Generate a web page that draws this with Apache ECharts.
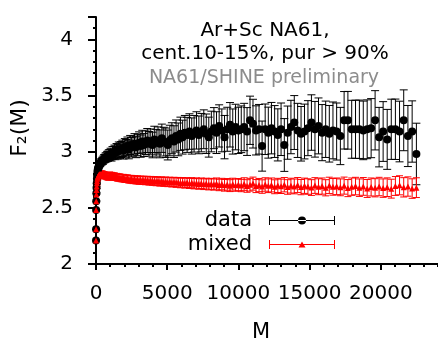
<!DOCTYPE html>
<html><head><meta charset="utf-8">
<script src="https://cdn.jsdelivr.net/npm/echarts@6/dist/echarts.min.js"></script>
<style>html,body{margin:0;padding:0;background:#fff}#c{width:438px;height:341px}</style>
</head><body><div id="c"></div>
<script>
// number of cells M
const M = [1,4,9,16,25,36,49,64,81,100,
121,144,169,196,225,256,289,324,361,400,
441,484,529,576,625,676,729,784,841,900,
961,1024,1089,1156,1225,1296,1369,1444,1521,1600,
1681,1764,1849,1936,2025,2116,2209,2304,2401,2500,
2601,2704,2809,2916,3025,3136,3249,3364,3481,3600,
3721,3844,3969,4096,4225,4356,4489,4624,4761,4900,
5041,5184,5329,5476,5625,5776,5929,6084,6241,6400,
6561,6724,6889,7056,7225,7396,7569,7744,7921,8100,
8281,8464,8649,8836,9025,9216,9409,9604,9801,10000,
10201,10404,10609,10816,11025,11236,11449,11664,11881,12100,
12321,12544,12769,12996,13225,13456,13689,13924,14161,14400,
14641,14884,15129,15376,15625,15876,16129,16384,16641,16900,
17161,17424,17689,17956,18225,18496,18769,19044,19321,19600,
19881,20164,20449,20736,21025,21316,21609,21904,22201,22500];

const dataF2 = [2.21,2.31,2.48,2.56,2.63,2.68,2.72,2.76,2.79,2.82,
2.84,2.85,2.86,2.87,2.88,2.89,2.89,2.90,2.91,2.91,
2.92,2.92,2.93,2.94,2.94,2.95,2.95,2.96,2.96,2.97,
2.97,2.98,2.97,2.99,2.99,3.00,2.99,3.01,3.00,3.02,
3.01,3.02,3.03,3.01,3.04,3.03,3.05,3.02,3.06,3.04,
3.05,3.07,3.04,3.06,3.08,3.05,3.09,3.06,3.08,3.10,
3.07,3.09,3.06,3.11,3.08,3.10,3.07,3.12,3.09,3.08,
3.06,3.10,3.12,3.09,3.14,3.11,3.16,3.13,3.17,3.15,
3.18,3.14,3.16,3.19,3.15,3.17,3.20,3.16,3.13,3.18,
3.21,3.17,3.23,3.19,3.13,3.20,3.24,3.18,3.22,3.19,
3.20,3.22,3.18,3.28,3.25,3.19,3.20,3.05,3.20,3.17,
3.21,3.18,3.15,3.20,3.06,3.17,3.22,3.26,3.19,3.16,
3.18,3.21,3.26,3.20,3.23,3.17,3.20,3.16,3.19,3.18,
3.14,3.28,3.28,3.20,3.20,3.20,3.19,3.20,3.21,3.28,
3.13,3.18,3.11,3.20,3.20,3.18,3.28,3.14,3.18,2.98];

const dataErr = [0.003,0.004,0.005,0.006,0.007,0.008,0.009,0.010,0.011,0.012,
0.014,0.015,0.017,0.018,0.020,0.021,0.023,0.025,0.026,0.028,
0.030,0.032,0.033,0.035,0.037,0.039,0.041,0.043,0.045,0.047,
0.049,0.051,0.053,0.055,0.057,0.059,0.061,0.063,0.065,0.067,
0.069,0.071,0.073,0.075,0.077,0.079,0.081,0.083,0.085,0.087,
0.089,0.091,0.093,0.095,0.097,0.099,0.101,0.103,0.105,0.107,
0.110,0.112,0.114,0.117,0.119,0.121,0.124,0.126,0.128,0.131,
0.133,0.136,0.138,0.141,0.143,0.146,0.148,0.151,0.153,0.156,
0.158,0.161,0.163,0.166,0.168,0.171,0.173,0.176,0.178,0.181,
0.183,0.186,0.188,0.191,0.193,0.196,0.198,0.201,0.203,0.206,
0.208,0.211,0.213,0.215,0.217,0.219,0.221,0.223,0.225,0.227,
0.229,0.231,0.232,0.234,0.235,0.237,0.238,0.240,0.241,0.243,
0.244,0.245,0.247,0.248,0.249,0.250,0.251,0.252,0.253,0.254,
0.255,0.256,0.257,0.258,0.259,0.260,0.261,0.262,0.263,0.264,
0.265,0.266,0.267,0.268,0.269,0.270,0.271,0.272,0.273,0.274];

const mixedF2 = [2.21,2.31,2.48,2.56,2.62,2.66,2.69,2.72,2.74,2.76,
2.77,2.78,2.785,2.79,2.795,2.80,2.80,2.80,2.80,2.80,
2.80,2.795,2.795,2.79,2.79,2.785,2.785,2.78,2.78,2.775,
2.79,2.785,2.785,2.78,2.78,2.78,2.775,2.775,2.77,2.77,
2.77,2.765,2.765,2.765,2.76,2.76,2.76,2.755,2.755,2.755,
2.750,2.752,2.748,2.750,2.745,2.748,2.744,2.746,2.742,2.745,
2.740,2.743,2.738,2.741,2.735,2.739,2.733,2.737,2.731,2.735,
2.729,2.733,2.727,2.731,2.725,2.729,2.722,2.727,2.720,2.725,
2.718,2.724,2.715,2.721,2.713,2.719,2.711,2.716,2.709,2.714,
2.708,2.716,2.704,2.712,2.701,2.709,2.698,2.711,2.702,2.707,
2.699,2.712,2.695,2.706,2.716,2.694,2.703,2.690,2.708,2.697,
2.704,2.688,2.700,2.692,2.706,2.686,2.698,2.691,2.703,2.685,
2.697,2.690,2.681,2.699,2.688,2.694,2.679,2.700,2.687,2.692,
2.683,2.698,2.676,2.689,2.694,2.680,2.691,2.673,2.686,2.679,
2.690,2.676,2.684,2.671,2.695,2.701,2.683,2.690,2.672,2.680];

const mixedErr = [0.003,0.004,0.005,0.006,0.010,0.013,0.016,0.018,0.020,0.022,
0.023,0.024,0.025,0.025,0.026,0.026,0.027,0.027,0.027,0.028,
0.028,0.028,0.028,0.029,0.029,0.029,0.029,0.030,0.030,0.030,
0.030,0.030,0.031,0.031,0.031,0.031,0.031,0.032,0.032,0.032,
0.032,0.032,0.033,0.033,0.033,0.033,0.033,0.034,0.034,0.034,
0.034,0.034,0.035,0.035,0.035,0.035,0.036,0.036,0.036,0.036,
0.037,0.037,0.037,0.038,0.038,0.038,0.039,0.039,0.039,0.040,
0.040,0.040,0.041,0.041,0.042,0.042,0.043,0.043,0.044,0.044,
0.045,0.045,0.046,0.046,0.047,0.047,0.048,0.048,0.049,0.049,
0.050,0.050,0.051,0.051,0.052,0.052,0.053,0.053,0.054,0.054,
0.055,0.056,0.056,0.057,0.058,0.058,0.059,0.060,0.060,0.061,
0.062,0.062,0.063,0.064,0.064,0.065,0.066,0.066,0.067,0.068,
0.068,0.069,0.070,0.070,0.071,0.072,0.072,0.073,0.074,0.074,
0.075,0.076,0.076,0.077,0.078,0.078,0.079,0.080,0.080,0.081,
0.082,0.082,0.083,0.084,0.084,0.085,0.086,0.086,0.087,0.088];

const seriesNames = ['data', 'mixed'];
const yTickLabels = ['2', '2.5', '3', '3.5', '4'];
const xTickLabels = ['0', '5000', '10000', '15000', '20000'];
const titleLines = ['Ar+Sc NA61,', 'cent.10-15%, pur > 90%'];
const subTitle = 'NA61/SHINE preliminary';
const xTitle = 'M';
const yTitle = 'F\u2082(M)';

const FONT = '"DejaVu Sans", sans-serif';

function errData(vals, errs) {
  return M.map((m, i) => [m, vals[i] - errs[i], vals[i] + errs[i]]);
}
function pts(vals) { return M.map((m, i) => [m, vals[i]]); }
function makeErrRender(capHalf, color) {
  return function (params, api) {
    const m = api.value(0);
    const lo = api.coord([m, api.value(1)]);
    const hi = api.coord([m, api.value(2)]);
    const x = lo[0];
    const st = { stroke: color, lineWidth: 1 };
    return {
      type: 'group',
      children: [
        { type: 'line', shape: { x1: x, y1: lo[1], x2: x, y2: hi[1] }, style: st },
        { type: 'line', shape: { x1: x - capHalf, y1: lo[1], x2: x + capHalf, y2: lo[1] }, style: st },
        { type: 'line', shape: { x1: x - capHalf, y1: hi[1], x2: x + capHalf, y2: hi[1] }, style: st }
      ]
    };
  };
}

const circleIcon = 'path://M0,0h1v9h-1z M0,4h66v1h-66z M65,0h1v9h-1z M29,4.5a4,4 0 1,0 8,0a4,4 0 1,0 -8,0z';
const triIcon = 'path://M0,0h1v9h-1z M0,4h66v1h-66z M65,0h1v9h-1z M33,1.5L36.5,7.5L29.5,7.5z';

const chart = echarts.init(document.getElementById('c'), null, { renderer: 'canvas' });
chart.setOption({
  animation: false,
  backgroundColor: '#fff',
  grid: { left: 96, top: 17, width: 356, height: 247, containLabel: false, outerBoundsMode: 'none' },
  xAxis: {
    type: 'value', min: 0, max: 25000, interval: 5000,
    name: xTitle, nameLocation: 'middle', nameGap: 58,
    nameTextStyle: { fontFamily: FONT, fontSize: 21, color: '#000', padding: [0, 26, 0, 0] },
    axisLine: { show: true, lineStyle: { color: '#000', width: 2 } },
    axisTick: { show: true, length: 6, lineStyle: { color: '#000', width: 2 } },
    minorTick: { show: true, splitNumber: 5, length: 3, lineStyle: { color: '#000', width: 2 } },
    splitLine: { show: false },
    axisLabel: { fontFamily: FONT, fontSize: 20, color: '#000', margin: 20,
      formatter: v => { const s = String(v); return xTickLabels.indexOf(s) >= 0 ? s : ''; } }
  },
  yAxis: [{
    type: 'value', min: 2, max: 4.2, interval: 0.1, position: 'left', offset: 2,
    axisLine: { show: true, lineStyle: { color: '#000', width: 2 } },
    axisTick: { show: true, length: 3, lineStyle: { color: '#000', width: 2 } },
    splitLine: { show: false },
    axisLabel: { fontFamily: FONT, fontSize: 20, color: '#000', margin: 21,
      formatter: v => { const s = String(+(+v).toFixed(1)); return yTickLabels.indexOf(s) >= 0 ? s : ''; } }
  }, {
    type: 'value', min: 2, max: 4.2, interval: 0.5, position: 'left', offset: 2,
    axisLine: { show: false },
    axisTick: { show: true, length: 6, lineStyle: { color: '#000', width: 2 } },
    splitLine: { show: false },
    axisLabel: { show: false }
  }],
  legend: [{
    data: [seriesNames[0]], right: 103, top: 208.5, padding: 0, align: 'right',
    itemWidth: 66, itemHeight: 9, icon: circleIcon, selectedMode: false,
    itemStyle: { opacity: 1, borderWidth: 0 },
    textStyle: { fontFamily: FONT, fontSize: 21, color: '#000', lineHeight: 24, padding: [0, 12, 0, 0] }
  }, {
    data: [seriesNames[1]], right: 103, top: 232.5, padding: 0, align: 'right',
    itemWidth: 66, itemHeight: 9, icon: triIcon, selectedMode: false,
    itemStyle: { opacity: 1, borderWidth: 0 },
    textStyle: { fontFamily: FONT, fontSize: 21, color: '#000', lineHeight: 24, padding: [0, 12, 0, 0] }
  }],
  graphic: [
    { type: 'text', x: 265, y: 31, style: { text: titleLines[0], font: '20px ' + FONT, fill: '#000', align: 'center', verticalAlign: 'middle', textAlign: 'center', textVerticalAlign: 'middle' } },
    { type: 'text', x: 265, y: 54, style: { text: titleLines[1], font: '20px ' + FONT, fill: '#000', align: 'center', verticalAlign: 'middle', textAlign: 'center', textVerticalAlign: 'middle' } },
    { type: 'text', x: 264, y: 78, style: { text: subTitle, font: '19px ' + FONT, fill: '#8c8c8c', align: 'center', verticalAlign: 'middle', textAlign: 'center', textVerticalAlign: 'middle' } },
    { type: 'text', x: 20, y: 128, rotation: Math.PI / 2, style: { text: yTitle, font: '22px ' + FONT, fill: '#000', align: 'center', verticalAlign: 'middle', textAlign: 'center', textVerticalAlign: 'middle' } }
  ],
  series: [
    { type: 'custom', name: 'data-err', renderItem: makeErrRender(4, '#000'), data: errData(dataF2, dataErr), encode: { x: 0, y: [1, 2] }, silent: true, clip: true },
    { type: 'scatter', name: seriesNames[0], data: pts(dataF2), symbol: 'circle', symbolSize: 8, itemStyle: { color: '#000', opacity: 1 }, silent: true },
    { type: 'custom', name: 'mixed-err', renderItem: makeErrRender(3.5, '#ff0000'), data: errData(mixedF2, mixedErr), encode: { x: 0, y: [1, 2] }, silent: true, clip: true },
    { type: 'scatter', name: seriesNames[1], data: pts(mixedF2), symbol: 'triangle', symbolSize: 6, itemStyle: { color: '#ff0000', opacity: 1 }, silent: true }
  ]
});
</script>
</body></html>
